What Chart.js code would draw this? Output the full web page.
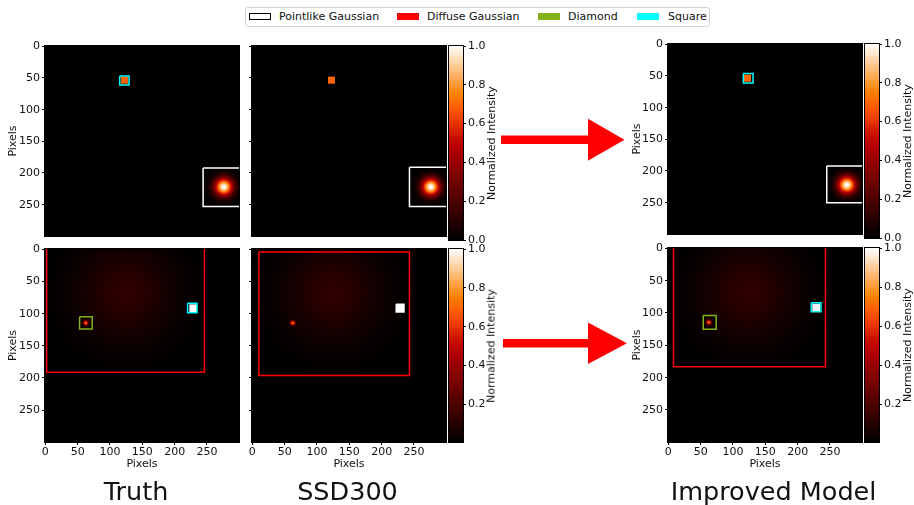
<!DOCTYPE html>
<html>
<head>
<meta charset="utf-8">
<script src="https://cdn.jsdelivr.net/npm/chart.js@4.4.1/dist/chart.umd.min.js"></script>
<style>
  html, body { margin: 0; padding: 0; background: #fff; }
  #fig { position: relative; width: 914px; height: 505px; overflow: hidden;
         font-family: 'DejaVu Sans', sans-serif; color: #111; }
  #fig canvas { position: absolute; }
  .lg { position: absolute; left: 245px; top: 7px; width: 463px; height: 18px;
        border: 1px solid #d4d4d4; border-radius: 3px; background: #fff; }
  .sw { position: absolute; top: 5px; width: 22px; height: 7px; box-sizing: border-box; }
  .lt { position: absolute; top: 0; font-size: 11px; line-height: 18px; white-space: nowrap; }
  .ttl { position: absolute; top: 478.5px; font-size: 25.5px; line-height: 25.5px;
         transform: translateX(-50%); white-space: nowrap; color: #111; }
  .cbl { position: absolute; font-size: 11px; line-height: 13px; white-space: nowrap;
         transform: translate(-50%, -50%) rotate(-90deg); }
  svg { position: absolute; left: 0; top: 0; }
</style>
</head>
<body>
<div id="fig">
  <div class="lg">
    <div class="sw" style="left:3px;background:#fff;border:1px solid #000;"></div>
    <div class="lt" style="left:33px;">Pointlike Gaussian</div>
    <div class="sw" style="left:151px;background:#ff0000;"></div>
    <div class="lt" style="left:181px;">Diffuse Gaussian</div>
    <div class="sw" style="left:292px;background:#84b21a;"></div>
    <div class="lt" style="left:322px;">Diamond</div>
    <div class="sw" style="left:391px;background:#00ffff;"></div>
    <div class="lt" style="left:422px;">Square</div>
  </div>

  <canvas id="truthTop"></canvas>
  <canvas id="ssdTop"></canvas>
  <canvas id="improvedTop"></canvas>
  <canvas id="truthBottom"></canvas>
  <canvas id="ssdBottom"></canvas>
  <canvas id="improvedBottom"></canvas>
  <canvas id="cbarSsdTop"></canvas>
  <canvas id="cbarSsdBottom"></canvas>
  <canvas id="cbarImprovedTop"></canvas>
  <canvas id="cbarImprovedBottom"></canvas>

  <div class="cbl" style="left:491px;top:143px;">Normalized Intensity</div>
  <div class="cbl" style="left:491px;top:345.5px;">Normalized Intensity</div>
  <div class="cbl" style="left:907px;top:141px;">Normalized Intensity</div>
  <div class="cbl" style="left:907px;top:345px;">Normalized Intensity</div>

  <svg width="914" height="505">
    <rect x="501" y="135.5" width="89" height="8.5" fill="#ff0000"/>
    <polygon points="588,118.7 624.5,139.7 588,160.7" fill="#ff0000"/>
    <rect x="503" y="339" width="87" height="8.5" fill="#ff0000"/>
    <polygon points="588,322.5 627,343.2 588,364" fill="#ff0000"/>
  </svg>

  <div class="ttl" style="left:136px;">Truth</div>
  <div class="ttl" style="left:347.5px;">SSD300</div>
  <div class="ttl" style="left:773.5px;">Improved Model</div>
</div>

<script>
// ---- axis ticks ----
const xTicks = [0, 50, 100, 150, 200, 250];
const yTicks = [0, 50, 100, 150, 200, 250];
const cbarTicksTop = [0.0, 0.2, 0.4, 0.6, 0.8, 1.0];
const cbarTicksBottom = [0.2, 0.4, 0.6, 0.8, 1.0];
const cbarRangeTop = [0.0, 1.0];
const cbarRangeBottom = [0.006, 1.0];

// ---- scene contents ----
// squares: [centre x, centre y, half width, intensity]
const sceneTopSquares = [[122.5, 53.5, 5.5, 0.7]];
// gaussians: [centre x, centre y, sigma, peak]
const sceneTopGaussians = [[276, 222, 10, 1.0]];
const sceneBottomSquares = [[228.5, 91.5, 6, 1.0]];
const sceneBottomGaussians = [[124, 68, 50, 0.12], [62.5, 114.5, 2.5, 0.75]];

// ---- bounding boxes: [x0, y0, x1, y1] ----
const truthTopSquare = [115, 47, 129.5, 61];
const truthTopPointlike = [244, 192, 308, 253];
const ssdTopPointlike = [243, 191, 309, 253];
const improvedTopSquare = [116, 46, 131, 61];
const improvedTopPointlike = [245, 192, 310, 250];
const truthBottomDiffuse = [2, -54, 246, 191];
const truthBottomDiamond = [53, 105, 72.5, 124];
const truthBottomSquare = [220, 84, 234.5, 98.5];
const ssdBottomDiffuse = [10, 4, 243, 196];
const ssdBottomPointlike = [222.5, 85.5, 234.5, 97.5];
const improvedBottomDiffuse = [8, -60, 243, 183];
const improvedBottomDiamond = [54, 104, 74, 125];
const improvedBottomSquare = [221, 84, 236, 98];

const classColors = { pointlike: '#ffffff', diffuse: '#ff0000', diamond: '#84b21a', square: '#00ffff' };

Chart.defaults.font.family = "'DejaVu Sans', sans-serif";
Chart.defaults.font.size = 11;
Chart.defaults.color = '#111';

const sceneTop = { squares: sceneTopSquares, gaussians: sceneTopGaussians };
const sceneBottom = { squares: sceneBottomSquares, gaussians: sceneBottomGaussians };

// gist_heat colour map
function gistHeat(v) {
  const c = t => 255 * Math.max(0, Math.min(1, t));
  return [c(1.5 * v), c(2 * v - 1), c(4 * v - 3)];
}

function intensity(scene, x, y) {
  let v = 0;
  for (const [cx, cy, s, a] of scene.gaussians) {
    const dx = x - cx, dy = y - cy;
    v += a * Math.exp(-(dx * dx + dy * dy) / (2 * s * s));
  }
  for (const [cx, cy, h, a] of scene.squares) {
    if (Math.abs(x - cx) <= h && Math.abs(y - cy) <= h) v = Math.max(v, a);
  }
  return Math.min(1, v);
}

// paints the intensity field under the axes, sampled through the chart scales
function heatLayer(scene) {
  return {
    id: 'heat',
    beforeDraw(chart) {
      const { left, top, right, bottom } = chart.chartArea;
      const w = Math.round(right - left), h = Math.round(bottom - top);
      const xs = chart.scales.x, ys = chart.scales.y;
      const off = document.createElement('canvas');
      off.width = w; off.height = h;
      const octx = off.getContext('2d');
      const img = octx.createImageData(w, h);
      const sub = [1 / 6, 1 / 2, 5 / 6];
      for (let j = 0; j < h; j++) {
        for (let i = 0; i < w; i++) {
          let r = 0, g = 0, b = 0;
          for (const sy of sub) {
            const y = ys.getValueForPixel(top + j + sy);
            for (const sx of sub) {
              const x = xs.getValueForPixel(left + i + sx);
              const c = gistHeat(intensity(scene, x, y));
              r += c[0]; g += c[1]; b += c[2];
            }
          }
          const k = 4 * (j * w + i);
          img.data[k] = r / 9; img.data[k + 1] = g / 9; img.data[k + 2] = b / 9; img.data[k + 3] = 255;
        }
      }
      octx.putImageData(img, 0, 0);
      chart.ctx.drawImage(off, left, top);
    }
  };
}

// colour ramp of the colour bar, one row per pixel through the value scale
const rampLayer = {
  id: 'ramp',
  beforeDraw(chart) {
    const { left, top, right, bottom } = chart.chartArea;
    const ys = chart.scales.y, ctx = chart.ctx;
    for (let py = top; py < bottom; py++) {
      const c = gistHeat(ys.getValueForPixel(py + 0.5));
      ctx.fillStyle = `rgb(${c[0]},${c[1]},${c[2]})`;
      ctx.fillRect(left, py, right - left, 1);
    }
  }
};

const frame = {
  id: 'frame',
  afterDraw(chart) {
    const { left, top, right, bottom } = chart.chartArea;
    const ctx = chart.ctx;
    ctx.save();
    ctx.strokeStyle = '#000';
    ctx.lineWidth = 1;
    ctx.strokeRect(left - 0.5, top - 0.5, right - left + 1, bottom - top + 1);
    ctx.restore();
  }
};

function zeroPad(s) { s.paddingLeft = 0; s.paddingRight = 0; s.paddingTop = 0; s.paddingBottom = 0; }

function place(cv, box) {
  cv.width = box.w; cv.height = box.h;
  cv.style.left = box.x + 'px'; cv.style.top = box.y + 'px';
}

function rect(b) {
  const [x0, y0, x1, y1] = b;
  return [{ x: x0, y: y0 }, { x: x1, y: y0 }, { x: x1, y: y1 }, { x: x0, y: y1 }, { x: x0, y: y0 }];
}

const tickGrid = { display: true, drawOnChartArea: false, tickLength: 3, color: '#000', tickWidth: 1 };

function panel(id, box, area, o) {
  const cv = document.getElementById(id);
  place(cv, box);
  const yW = area.x - box.x;
  const xH = box.y + box.h - (area.y + area.h);
  const padTop = area.y - box.y;
  const padRight = box.x + box.w - (area.x + area.w);
  new Chart(cv, {
    type: 'scatter',
    data: {
      datasets: o.boxes.map(([b, color]) => ({
        data: rect(b), borderColor: color, backgroundColor: color, borderWidth: 1.5,
        showLine: true, pointRadius: 0, borderJoinStyle: 'miter', tension: 0
      }))
    },
    options: {
      responsive: false, animation: false, events: [],
      layout: { autoPadding: false, padding: { left: 0, top: padTop, right: padRight, bottom: o.xLabels ? 0 : xH } },
      plugins: { legend: { display: false }, tooltip: { enabled: false } },
      scales: {
        x: {
          type: 'linear', position: 'bottom', min: -0.5, max: 299.5, display: !!o.xLabels,
          afterBuildTicks: s => { s.ticks = xTicks.map(v => ({ value: v })); },
          afterFit: s => { s.height = xH; zeroPad(s); },
          grid: tickGrid, border: { display: false },
          ticks: { padding: 1, maxRotation: 0, autoSkip: false, callback: v => String(v) },
          title: { display: true, text: 'Pixels', padding: { top: 0, bottom: 4 } }
        },
        y: {
          type: 'linear', position: 'left', reverse: true, min: -0.5, max: 299.5,
          afterBuildTicks: s => { s.ticks = yTicks.map(v => ({ value: v })); },
          afterFit: s => { s.width = yW; zeroPad(s); },
          grid: tickGrid, border: { display: false },
          ticks: { display: !!o.yLabels, padding: 2, autoSkip: false, callback: v => String(v) },
          title: { display: !!o.yLabels, text: 'Pixels', padding: { top: o.yTitlePad || 0, bottom: 0 } }
        }
      }
    },
    plugins: [heatLayer(o.scene), frame]
  });
}

function colorbar(id, box, area, range, ticks) {
  const cv = document.getElementById(id);
  place(cv, box);
  new Chart(cv, {
    type: 'scatter',
    data: { datasets: [] },
    options: {
      responsive: false, animation: false, events: [],
      layout: { autoPadding: false, padding: { left: area.x - box.x, top: area.y - box.y, right: 0, bottom: box.y + box.h - (area.y + area.h) } },
      plugins: { legend: { display: false }, tooltip: { enabled: false } },
      scales: {
        x: { display: false, min: 0, max: 1 },
        y: {
          position: 'right', min: range[0], max: range[1],
          afterBuildTicks: s => { s.ticks = ticks.map(v => ({ value: v })); },
          afterFit: s => { s.width = box.x + box.w - (area.x + area.w); zeroPad(s); },
          grid: tickGrid, border: { display: false },
          ticks: { padding: 2, autoSkip: false, callback: v => v.toFixed(1) }
        }
      }
    },
    plugins: [rampLayer, frame]
  });
}

const C = classColors;

panel('truthTop', { x: 0, y: 36, w: 243, h: 208 }, { x: 45, y: 46, w: 194, h: 194 }, {
  scene: sceneTop, yLabels: true, yTitlePad: 6.4, xLabels: false,
  boxes: [[truthTopSquare, C.square], [truthTopPointlike, C.pointlike]]
});
panel('ssdTop', { x: 241, y: 36, w: 209, h: 208 }, { x: 252, y: 46, w: 194, h: 194 }, {
  scene: sceneTop, yLabels: false, xLabels: false,
  boxes: [[ssdTopPointlike, C.pointlike]]
});
panel('improvedTop', { x: 623, y: 34, w: 243, h: 208 }, { x: 668, y: 44, w: 194, h: 194 }, {
  scene: sceneTop, yLabels: true, yTitlePad: 7.9, xLabels: false,
  boxes: [[improvedTopSquare, C.square], [improvedTopPointlike, C.pointlike]]
});
panel('truthBottom', { x: 0, y: 243, w: 243, h: 232 }, { x: 45, y: 249, w: 194, h: 193 }, {
  scene: sceneBottom, yLabels: true, yTitlePad: 6.4, xLabels: true,
  boxes: [[truthBottomDiffuse, C.diffuse], [truthBottomDiamond, C.diamond], [truthBottomSquare, C.square]]
});
panel('ssdBottom', { x: 241, y: 243, w: 209, h: 232 }, { x: 252, y: 249, w: 194, h: 193 }, {
  scene: sceneBottom, yLabels: false, xLabels: true,
  boxes: [[ssdBottomDiffuse, C.diffuse], [ssdBottomPointlike, C.pointlike]]
});
panel('improvedBottom', { x: 623, y: 242, w: 243, h: 233 }, { x: 668, y: 248, w: 194, h: 194 }, {
  scene: sceneBottom, yLabels: true, yTitlePad: 7.9, xLabels: true,
  boxes: [[improvedBottomDiffuse, C.diffuse], [improvedBottomDiamond, C.diamond], [improvedBottomSquare, C.square]]
});

colorbar('cbarSsdTop', { x: 447, y: 36, w: 50, h: 214 }, { x: 449, y: 46, w: 14, h: 194 }, cbarRangeTop, cbarTicksTop);
colorbar('cbarSsdBottom', { x: 447, y: 239, w: 50, h: 213 }, { x: 449, y: 249, w: 14, h: 193 }, cbarRangeBottom, cbarTicksBottom);
colorbar('cbarImprovedTop', { x: 863, y: 34, w: 50, h: 214 }, { x: 865, y: 44, w: 14, h: 194 }, cbarRangeTop, cbarTicksTop);
colorbar('cbarImprovedBottom', { x: 863, y: 238, w: 50, h: 214 }, { x: 865, y: 248, w: 14, h: 194 }, cbarRangeBottom, cbarTicksBottom);
</script>
</body>
</html>
